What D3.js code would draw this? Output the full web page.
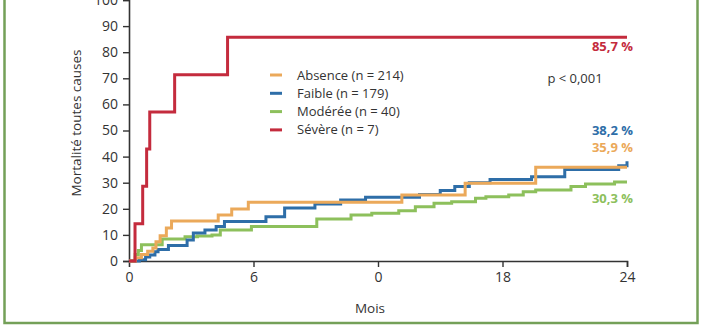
<!DOCTYPE html>
<html>
<head>
<meta charset="utf-8">
<script src="https://cdn.jsdelivr.net/npm/d3@7"></script>
<style>
  html, body { margin: 0; padding: 0; background: #fff; }
  svg { display: block; font-family: "Open Sans", sans-serif; }
</style>
</head>
<body>
<svg id="chart" width="702" height="336"></svg>
<script>
// Kaplan–Meier style cumulative mortality (%) by month, one array per group
const months = [0, 6, 12, 18, 24];
const xTickLabels = ["0", "6", "0", "18", "24"];
const yTicks = [0, 10, 20, 30, 40, 50, 60, 70, 80, 90, 100];

const absence = [[0,0],[0.3,1.2],[0.6,2.5],[0.9,3.7],[1.15,5],[1.3,7.4],[1.5,9.7],[1.8,12.6],[2.05,15.3],[4.3,17.6],[4.95,19.9],[5.75,22.5],[13.15,25.3],[16.2,29.8],[19.6,35.9],[24,35.9]];
const faible = [[0,0],[0.5,0.5],[0.8,1.5],[1.0,2.3],[1.25,3.5],[1.4,4.4],[1.9,5.9],[2.8,8],[3.1,10.7],[3.66,11.9],[4.2,13.2],[4.6,15.1],[6.6,17],[7.5,20.3],[8.96,21.8],[10.2,23.4],[11.4,24.4],[14,25.5],[15,27],[15.7,28.5],[16.4,30],[17.4,31.2],[19.4,32.3],[21,35.1],[23.6,36.5],[24,38.2]];
const moderee = [[0,0],[0.3,2.5],[0.45,4],[0.6,6.2],[1.2,6.2],[1.6,8.4],[2.7,9.3],[3.3,9.6],[4.0,10],[4.4,11.9],[5.9,13.2],[9.05,16.1],[10.7,17.6],[11.7,18.3],[13,19.3],[13.8,20.8],[14.7,22.1],[15.55,22.7],[16.7,24],[17.2,24.6],[18.3,25.3],[19,26.5],[19.6,27.2],[21.3,28.5],[22,29.5],[23.4,30.3],[24,30.3]];
const severe = [[0,0],[0.29,14.3],[0.66,28.6],[0.85,42.9],[1.0,57.1],[2.2,71.4],[4.75,85.7],[24,85.7]];

const seriesNames = ["Absence (n = 214)", "Faible (n = 179)", "Modérée (n = 40)", "Sévère (n = 7)"];
const seriesColors = ["#eba95a", "#2e6ea8", "#8dc05c", "#c42b3d"];
const seriesData = [absence, faible, moderee, severe];
const endLabels = ["35,9 %", "38,2 %", "30,3 %", "85,7 %"];

const svg = d3.select("#chart");

// outer frame
svg.append("rect")
  .attr("x", 4.5).attr("y", -10)
  .attr("width", 693).attr("height", 333)
  .attr("fill", "none")
  .attr("stroke", "#74a058")
  .attr("stroke-width", 2.5);

const x = d3.scaleLinear().domain([0, 24]).range([129, 627]);
const y = d3.scaleLinear().domain([0, 100]).range([261, 0]);

// y axis
const yAxis = svg.append("g")
  .attr("transform", `translate(${x(0)},0)`)
  .call(d3.axisLeft(y).tickValues(yTicks).tickSize(6).tickPadding(5).tickFormat(d3.format("d")));
// x axis
const xAxis = svg.append("g")
  .attr("transform", `translate(0,${y(0)})`)
  .call(d3.axisBottom(x).tickValues(months).tickSize(6).tickPadding(5).tickFormat((d, i) => xTickLabels[i]));

[yAxis, xAxis].forEach(g => {
  g.select(".domain").attr("stroke", "#333").attr("stroke-width", 1.6);
  g.selectAll(".tick line").attr("stroke", "#333").attr("stroke-width", 1.4);
  g.selectAll(".tick text").attr("fill", "#333").attr("font-size", 14).attr("font-family", "Open Sans, sans-serif");
});
xAxis.selectAll(".tick").filter(d => d === 0).select("line").remove();

// axis titles
svg.append("text")
  .attr("transform", `translate(81,123) rotate(-90)`)
  .attr("text-anchor", "middle")
  .attr("font-size", 13.5).attr("fill", "#333")
  .text("Mortalité toutes causes");
svg.append("text")
  .attr("x", 370).attr("y", 313)
  .attr("text-anchor", "middle")
  .attr("font-size", 13.5).attr("fill", "#333")
  .text("Mois");

// step curves
const line = d3.line()
  .x(d => x(d[0]))
  .y(d => y(d[1]))
  .curve(d3.curveStepAfter);

[2, 1, 0, 3].forEach(i => {
  svg.append("path")
    .datum(seriesData[i])
    .attr("d", line)
    .attr("fill", "none")
    .attr("stroke", seriesColors[i])
    .attr("stroke-width", 3);
});

// legend
const legend = svg.append("g").attr("transform", "translate(270,75)");
seriesNames.forEach((name, i) => {
  const row = legend.append("g").attr("transform", `translate(0,${i * 18.3})`);
  row.append("line")
    .attr("x1", 0).attr("x2", 12).attr("y1", 0).attr("y2", 0)
    .attr("stroke", seriesColors[i]).attr("stroke-width", 3);
  row.append("text")
    .attr("x", 27).attr("y", 0).attr("dy", "0.35em")
    .attr("font-size", 13).attr("fill", "#333")
    .text(name);
});

svg.append("text")
  .attr("x", 575).attr("y", 78).attr("dy", "0.35em")
  .attr("text-anchor", "middle")
  .attr("font-size", 13).attr("fill", "#333")
  .text("p < 0,001");

// final percentages
const endY = [147, 130, 198, 46];
endLabels.forEach((t, i) => {
  svg.append("text")
    .attr("x", 633).attr("y", endY[i]).attr("dy", "0.35em")
    .attr("text-anchor", "end")
    .attr("font-size", 13).attr("font-weight", "bold")
    .attr("fill", seriesColors[i])
    .text(t);
});
</script>
</body>
</html>
